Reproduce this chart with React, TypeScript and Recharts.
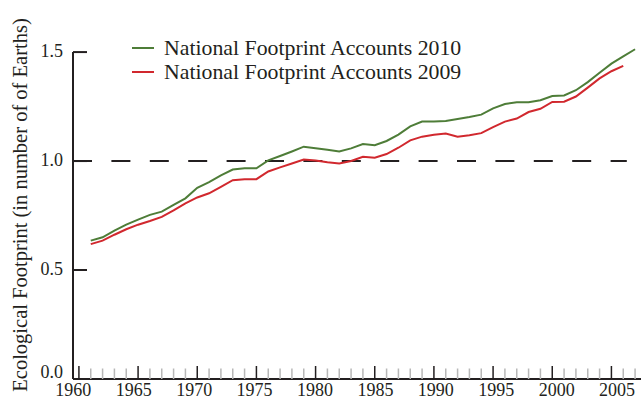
import { LineChart, Line, XAxis, YAxis, ReferenceLine, Legend } from 'recharts';

// Ecological Footprint, world, in number of Earths
const years = [
  1961, 1962, 1963, 1964, 1965, 1966, 1967, 1968, 1969, 1970,
  1971, 1972, 1973, 1974, 1975, 1976, 1977, 1978, 1979, 1980,
  1981, 1982, 1983, 1984, 1985, 1986, 1987, 1988, 1989, 1990,
  1991, 1992, 1993, 1994, 1995, 1996, 1997, 1998, 1999, 2000,
  2001, 2002, 2003, 2004, 2005, 2006, 2007,
];

const nfa2010 = [
  0.635, 0.65, 0.681, 0.708, 0.731, 0.753, 0.768, 0.799, 0.829, 0.877,
  0.903, 0.934, 0.961, 0.967, 0.967, 1.003, 1.023, 1.044, 1.066, 1.059,
  1.052, 1.044, 1.058, 1.078, 1.073, 1.092, 1.121, 1.159, 1.181, 1.182,
  1.184, 1.193, 1.202, 1.213, 1.242, 1.262, 1.27, 1.27, 1.279, 1.298,
  1.301, 1.325, 1.362, 1.405, 1.447, 1.48, 1.513,
];

// 2009 edition stops at 2006
const nfa2009 = [
  0.619, 0.635, 0.662, 0.687, 0.708, 0.725, 0.744, 0.774, 0.806, 0.833,
  0.852, 0.882, 0.912, 0.917, 0.917, 0.952, 0.971, 0.989, 1.007, 1.003,
  0.994, 0.989, 1.0, 1.02, 1.015, 1.032, 1.061, 1.095, 1.112, 1.121,
  1.126, 1.112, 1.118, 1.128, 1.156, 1.181, 1.195, 1.225, 1.24, 1.271,
  1.272, 1.296, 1.337, 1.379, 1.412, 1.437,
];

const seriesNames = ['National Footprint Accounts 2010', 'National Footprint Accounts 2009'];
const majorYears = [1960, 1965, 1970, 1975, 1980, 1985, 1990, 1995, 2000, 2005];
const yTicks = [0, 0.5, 1.0, 1.5];

const rows = years.map((year, i) => ({
  year,
  nfa2010: nfa2010[i],
  nfa2009: i < nfa2009.length ? nfa2009[i] : null,
}));

const allYears = Array.from({ length: 48 }, (_, i) => 1960 + i);

const INK = '#231f20';
const GREEN = '#4e7d38';
const RED = '#d1282e';
const FONT = '"Liberation Serif", "Times New Roman", serif';

const XTick = (props: any) => {
  const { x, y, payload } = props;
  const major = majorYears.includes(payload.value);
  // printed labels sit on a slightly wider spacing than the ticks
  const shift = (payload.value - 1982.5) * 0.25;
  return (
    <g>
      <line x1={x} x2={x} y1={y} y2={y - (major ? 13 : 10.5)} stroke={major ? INK : '#b8b8b8'} strokeWidth={1.5} />
      {major && (
        <text x={x + shift} y={y + 17} textAnchor="middle" fontSize={18} fontFamily={FONT} fill={INK}>
          {payload.value}
        </text>
      )}
    </g>
  );
};

const YTick = (props: any) => {
  const { x, y, payload } = props;
  const v = payload.value;
  return (
    <g>
      {v > 0 && <line x1={x} x2={x + 14} y1={y} y2={y} stroke={INK} strokeWidth={2} />}
      <text x={x - 10} y={y + (v === 0 ? -7 : -1)} dy="0.35em" textAnchor="end" fontSize={18} fontFamily={FONT} fill={INK}>
        {v.toFixed(1)}
      </text>
    </g>
  );
};

const LegendBox = (props: any) => {
  const items = [...(props.payload || [])].sort(
    (a: any, b: any) => seriesNames.indexOf(a.value) - seriesNames.indexOf(b.value)
  );
  return (
    <div style={{ fontFamily: FONT, fontSize: 21.8, color: INK }}>
      {items.map((p: any) => (
        <div key={p.value} style={{ display: 'flex', alignItems: 'center', height: 24, whiteSpace: 'nowrap' }}>
          <div style={{ width: 22, height: 2, background: p.color, marginRight: 10 }} />
          <span>{p.value}</span>
        </div>
      ))}
    </div>
  );
};

export default function App() {
  return (
    <div style={{ position: 'absolute', left: 0, top: 0, width: 641, height: 400, background: '#fff', fontFamily: FONT }}>
      <LineChart width={641} height={400} data={rows} margin={{ top: 39, right: 0, bottom: 0, left: 0 }}>
        <XAxis
          dataKey="year"
          type="number"
          domain={[1959.5, 2007.5]}
          ticks={allYears}
          interval={0}
          tickSize={0}
          tickMargin={0}
          height={21}
          axisLine={{ stroke: INK, strokeWidth: 2 }}
          tick={(p: any) => <XTick {...p} />}
        />
        <YAxis
          type="number"
          domain={[0, 1.56]}
          ticks={yTicks}
          interval={0}
          width={73}
          tickSize={0}
          tickMargin={0}
          axisLine={false}
          tick={(p: any) => <YTick {...p} />}
        />
        <ReferenceLine segment={[{ x: 1959.5, y: 0 }, { x: 1959.5, y: 1.5 }]} stroke={INK} strokeWidth={2} />
        <ReferenceLine
          segment={[{ x: 1959.5, y: 1 }, { x: 2006.3, y: 1 }]}
          stroke={INK}
          strokeWidth={2}
          strokeDasharray="19 19.4"
        />
        <Line type="linear" dataKey="nfa2010" name={seriesNames[0]} stroke={GREEN} strokeWidth={2} dot={false} isAnimationActive={false} />
        <Line type="linear" dataKey="nfa2009" name={seriesNames[1]} stroke={RED} strokeWidth={2} dot={false} isAnimationActive={false} />
        <Legend
          layout="vertical"
          align="center"
          verticalAlign="middle"
          content={(p: any) => <LegendBox {...p} />}
          wrapperStyle={{ left: 132, top: 36, width: 'auto' }}
        />
      </LineChart>
      <svg style={{ position: 'absolute', left: 0, top: 0 }} width={40} height={400}>
        <text transform="translate(27,205) rotate(-90)" textAnchor="middle" fontSize={20.5} fontFamily={FONT} fill={INK}>
          Ecological Footprint (in number of of Earths)
        </text>
      </svg>
    </div>
  );
}
